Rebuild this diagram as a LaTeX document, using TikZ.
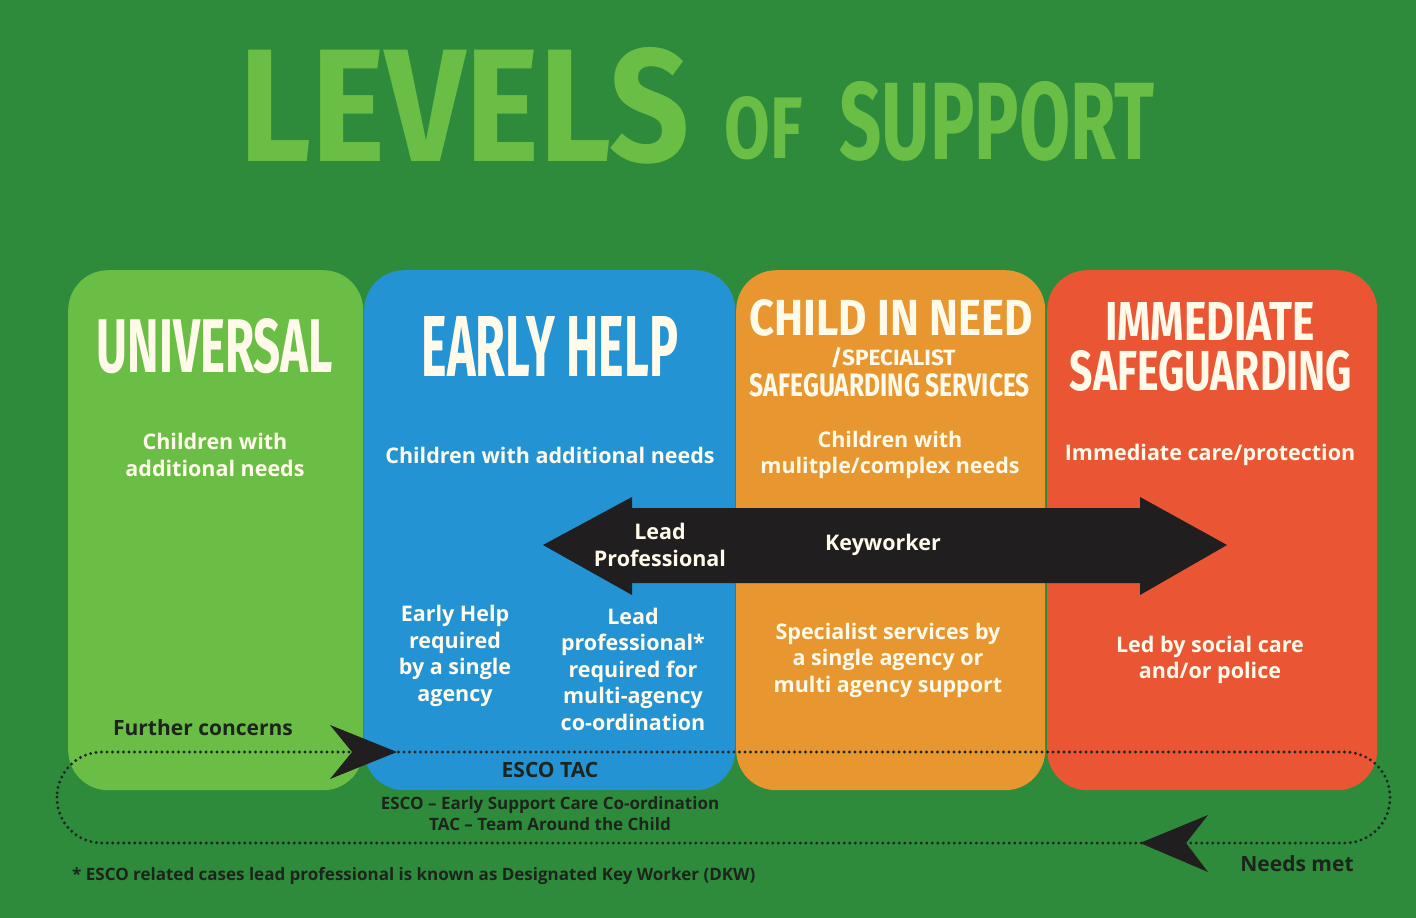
\documentclass[tikz,border=0pt]{standalone}
\usepackage{fontspec}
\usepackage{graphicx}
\setmainfont{Open Sans}
\newfontfamily\hdrfont{Fira Sans}
\definecolor{bgG}{HTML}{2E8B3B}
\definecolor{cUni}{HTML}{6BBE45}
\definecolor{cEarly}{HTML}{2393D3}
\definecolor{cCin}{HTML}{E8962F}
\definecolor{cImm}{HTML}{EA5533}
\definecolor{cream}{HTML}{FFFAEA}
\definecolor{darkT}{HTML}{1C241D}
\definecolor{arrowK}{HTML}{201E1F}
\newcommand\fitbox[3]{\resizebox{#1pt}{#2pt}{\hdrfont\bfseries #3}}
\tikzset{
  levelbox/.style={rectangle, rounded corners=40pt, draw=none, minimum height=520pt, anchor=north west, inner sep=0pt},
  hdr/.style={text=cream, inner sep=0pt},
  ttl/.style={text=cUni, inner sep=0pt},
  body/.style={text=cream, align=center, font=\bfseries\fontsize{21.5}{26.5}\selectfont, inner sep=0pt},
  darkbody/.style={text=darkT, align=center, font=\bfseries\fontsize{21}{24}\selectfont, inner sep=0pt},
  small/.style={text=darkT, align=center, font=\bfseries\fontsize{17}{21}\selectfont, inner sep=0pt},
  loopline/.style={draw=darkT, line width=3.2pt, line cap=round, dash pattern=on 0pt off 5.5pt},
  headfill/.style={fill=arrowK, draw=none},
}
\begin{document}
\begin{tikzpicture}[x=1pt,y=-1pt]
\useasboundingbox (0,0) rectangle (1416,918);
\fill[bgG] (0,0) rectangle (1416,918);

% title
\node[ttl] (tLevels) at (465,106) {\resizebox{450pt}{114pt}{\hdrfont\bfseries LEVELS}};
\node[ttl] (tOf) at (764,128) {\resizebox{78pt}{62pt}{\hdrfont\bfseries OF}};
\node[ttl] (tSupport) at (997,121) {\resizebox{315pt}{78pt}{\hdrfont\bfseries SUPPORT}};

% level boxes
\node[levelbox, fill=cUni, minimum width=295pt] (uni) at (68,270) {};
\node[levelbox, fill=cEarly, minimum width=371pt] (early) at (364,270) {};
\node[levelbox, fill=cCin, minimum width=309pt] (cin) at (736,270) {};
\node[levelbox, fill=cImm, minimum width=330pt] (imm) at (1047,270) {};

% headers
\node[hdr] (hUni) at (215,346) {\fitbox{236}{54}{UNIVERSAL}};
\node[hdr] (hEarly) at (550,346) {\fitbox{256}{60}{EARLY HELP}};
\node[hdr] (hCin1) at (891,318) {\fitbox{283}{36}{CHILD IN NEED}};
\node[hdr] (hCin2) at (893,358) {\fitbox{125}{18}{/SPECIALIST}};
\node[hdr] (hCin3) at (890,385) {\fitbox{280}{23}{SAFEGUARDING SERVICES}};
\node[hdr] (hImm1) at (1210,321) {\fitbox{210}{38}{IMMEDIATE}};
\node[hdr] (hImm2) at (1211,371) {\fitbox{282}{40}{SAFEGUARDING}};

% descriptions
\node[body] (dUni) at (215,455) {Children with\\additional needs};
\node[body] (dEarly) at (550,455) {Children with additional needs};
\node[body] (dCin) at (890,455) {Children with\\mulitple/complex needs};
\node[body] (dImm) at (1210,455) {Immediate care/protection};

% key double arrow
\fill[arrowK] (543,545) -- (632,497) -- (632,508) -- (1140,508) -- (1140,497) -- (1227,545)
  -- (1140,595) -- (1140,583) -- (632,583) -- (632,595) -- cycle;
\node[body] (lead) at (660,545) {Lead\\Professional};
\node[body] (key) at (883,545) {Keyworker};

% lower texts
\node[body] (eh1) at (455,656) {Early Help\\required\\by a single\\agency};
\node[body] (eh2) at (633,669) {Lead\\professional*\\required for\\multi-agency\\co-ordination};
\node[body] (cin2) at (888,660) {Specialist services by\\a single agency or\\multi agency support};
\node[body] (imm2) at (1210,660) {Led by social care\\and/or police};

% loop
\node[darkbody] (further) at (203,728) {Further concerns};
\node[darkbody] (escotac) at (550,770) {ESCO TAC};
\node[small] (escoexp) at (550,814) {ESCO -- Early Support Care Co-ordination\\TAC -- Team Around the Child};
\node[small, anchor=west] (foot) at (72,876) {* ESCO related cases lead professional is known as Designated Key Worker (DKW)};
\node[darkbody] (needs) at (1297,864) {Needs met};

\draw[loopline, rounded corners=45pt] (57,752) rectangle (1390,843);
\coordinate (tipA) at (397,752);
\coordinate (tipB) at (1140,843);
\fill[headfill] (tipA) -- (330,725) -- (352,752) -- (330,779) -- cycle;
\fill[headfill] (tipB) -- (1208,815) -- (1186,843) -- (1208,872) -- cycle;
\end{tikzpicture}
\end{document}
